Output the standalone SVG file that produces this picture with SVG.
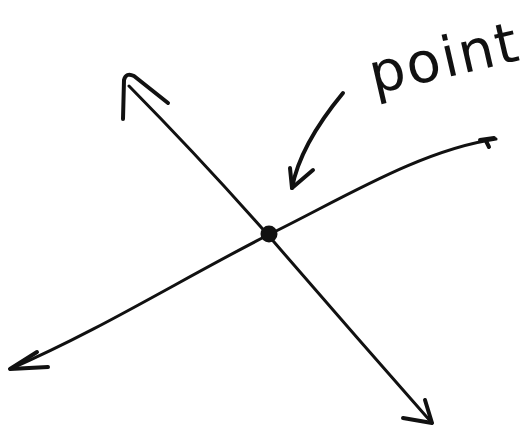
<svg xmlns="http://www.w3.org/2000/svg" width="530" height="441" viewBox="0 0 530 441">
<style>
.ln{fill:none;stroke:#111;stroke-width:3;stroke-linecap:round;stroke-linejoin:round}
.thick{stroke-width:4}
.lbl{font-family:"DejaVu Sans","Liberation Sans",sans-serif;font-size:56px;fill:#111;letter-spacing:2px}
</style>
<rect width="530" height="441" fill="#fff"/>
<g id="connectors">
<path class="ln" d="M129,86 Q200,158 268,235 Q350,330 432,423"/>
<path class="ln thick" d="M123,119 L124,80 Q126,72 134,76 L168,103"/>
<path class="ln thick" d="M425,400 L432,423 L403,418"/>
<path class="ln" d="M10,369 C100,330 180,280 268,235 C340,200 420,150 496,139"/>
<path class="ln thick" d="M37,352 L10,369 L48,367"/>
<path class="ln thick" d="M480,140 L494,138 M486,141 L489,147"/>
<path class="ln thick" d="M343,93 Q300,145 292,188"/>
<path class="ln thick" d="M290,168 L292,188 L313,170"/>
</g>
<g id="point-node">
<circle cx="269" cy="234" r="8.5" fill="#111"/>
</g>
<g id="label">
<text class="lbl" transform="translate(374,94) rotate(-13)">point</text>
</g>
</svg>
